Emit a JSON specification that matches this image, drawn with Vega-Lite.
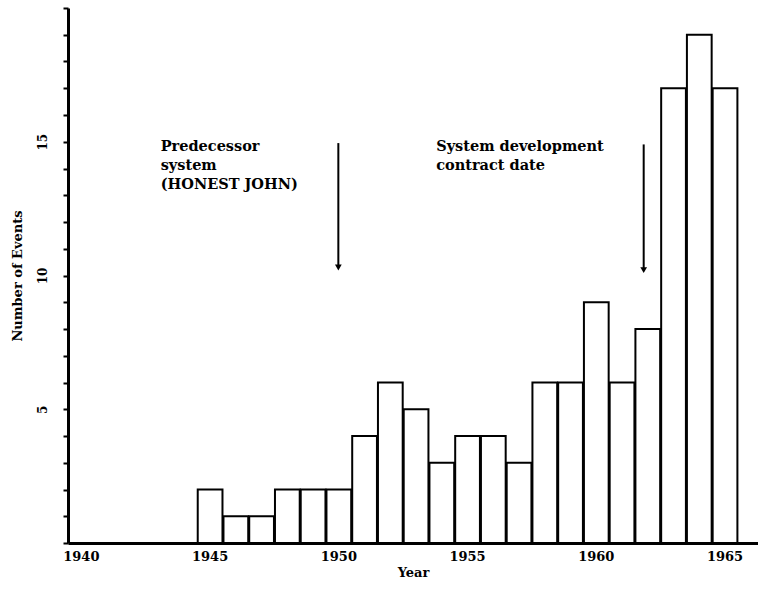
{
  "$schema": "https://vega.github.io/schema/vega-lite/v6.json",
  "width": 690,
  "height": 535,
  "autosize": {"type": "none"},
  "padding": {"left": 68, "top": 8, "right": 0, "bottom": 48},
  "background": "white",
  "config": {"view": {"stroke": null}, "font": "DejaVu Serif"},
  "datasets": {
    "events": [
      {"year": 1945, "start": 1944.5, "end": 1945.5, "events": 2},
      {"year": 1946, "start": 1945.5, "end": 1946.5, "events": 1},
      {"year": 1947, "start": 1946.5, "end": 1947.5, "events": 1},
      {"year": 1948, "start": 1947.5, "end": 1948.5, "events": 2},
      {"year": 1949, "start": 1948.5, "end": 1949.5, "events": 2},
      {"year": 1950, "start": 1949.5, "end": 1950.5, "events": 2},
      {"year": 1951, "start": 1950.5, "end": 1951.5, "events": 4},
      {"year": 1952, "start": 1951.5, "end": 1952.5, "events": 6},
      {"year": 1953, "start": 1952.5, "end": 1953.5, "events": 5},
      {"year": 1954, "start": 1953.5, "end": 1954.5, "events": 3},
      {"year": 1955, "start": 1954.5, "end": 1955.5, "events": 4},
      {"year": 1956, "start": 1955.5, "end": 1956.5, "events": 4},
      {"year": 1957, "start": 1956.5, "end": 1957.5, "events": 3},
      {"year": 1958, "start": 1957.5, "end": 1958.5, "events": 6},
      {"year": 1959, "start": 1958.5, "end": 1959.5, "events": 6},
      {"year": 1960, "start": 1959.5, "end": 1960.5, "events": 9},
      {"year": 1961, "start": 1960.5, "end": 1961.5, "events": 6},
      {"year": 1962, "start": 1961.5, "end": 1962.5, "events": 8},
      {"year": 1963, "start": 1962.5, "end": 1963.5, "events": 17},
      {"year": 1964, "start": 1963.5, "end": 1964.5, "events": 19},
      {"year": 1965, "start": 1964.5, "end": 1965.5, "events": 17}
    ],
    "arrows": [
      {"x": 1950, "top": 14.95, "bottom": 10.3},
      {"x": 1961.86, "top": 14.9, "bottom": 10.2}
    ],
    "notes": [
      {"x": 1943.1, "y": 15.05, "text": ["Predecessor", "system", "(HONEST JOHN)"]},
      {"x": 1953.8, "y": 15.05, "text": ["System development", "contract date"]}
    ]
  },
  "layer": [
    {
      "data": {"name": "events"},
      "mark": {"type": "bar", "fill": "white", "stroke": "black", "strokeWidth": 2},
      "encoding": {
        "x": {
          "field": "start",
          "type": "quantitative",
          "bin": {"binned": true},
          "scale": {"domain": [1939.5, 1966.3], "nice": false, "zero": false},
          "axis": {
            "title": "Year",
            "values": [1940, 1945, 1950, 1955, 1960, 1965],
            "format": "d",
            "grid": false,
            "ticks": false,
            "labelOverlap": false,
            "domainColor": "black",
            "domainWidth": 3,
            "labelFont": "DejaVu Serif",
            "labelFontWeight": "bold",
            "labelFontSize": 13,
            "labelColor": "black",
            "labelPadding": 7,
            "titleFont": "DejaVu Serif",
            "titleFontWeight": "bold",
            "titleFontSize": 13,
            "titleColor": "black",
            "titlePadding": 3
          }
        },
        "x2": {"field": "end"},
        "y": {
          "field": "events",
          "type": "quantitative",
          "scale": {"domain": [0, 20], "nice": false},
          "axis": {
            "title": "Number of Events",
            "tickCount": 20,
            "labelExpr": "(datum.value == 5 || datum.value == 10 || datum.value == 15) ? datum.label : ''",
            "labelOverlap": false,
            "labelBound": false,
            "grid": false,
            "ticks": true,
            "domainColor": "black",
            "domainWidth": 3,
            "tickColor": "black",
            "tickSize": 5,
            "tickWidth": 2,
            "labelAngle": -90,
            "labelFont": "DejaVu Serif",
            "labelFontWeight": "bold",
            "labelFontSize": 12,
            "labelColor": "black",
            "labelPadding": 14,
            "titleFont": "DejaVu Serif",
            "titleFontWeight": "bold",
            "titleFontSize": 13,
            "titleColor": "black",
            "titlePadding": 12
          }
        },
        "y2": {"datum": 0}
      }
    },
    {
      "data": {"name": "arrows"},
      "mark": {"type": "rule", "stroke": "black", "strokeWidth": 2},
      "encoding": {
        "x": {"field": "x", "type": "quantitative"},
        "y": {"field": "top", "type": "quantitative"},
        "y2": {"field": "bottom"}
      }
    },
    {
      "data": {"name": "arrows"},
      "mark": {"type": "point", "shape": "triangle-down", "filled": true, "color": "black", "size": 45, "opacity": 1},
      "encoding": {
        "x": {"field": "x", "type": "quantitative"},
        "y": {"field": "bottom", "type": "quantitative"}
      }
    },
    {
      "data": {"name": "notes"},
      "mark": {"type": "text", "align": "left", "baseline": "top", "font": "DejaVu Serif", "fontWeight": "bold", "fontSize": 14.5, "lineHeight": 19, "color": "black"},
      "encoding": {
        "x": {"field": "x", "type": "quantitative"},
        "y": {"field": "y", "type": "quantitative"},
        "text": {"field": "text"}
      }
    }
  ]
}
